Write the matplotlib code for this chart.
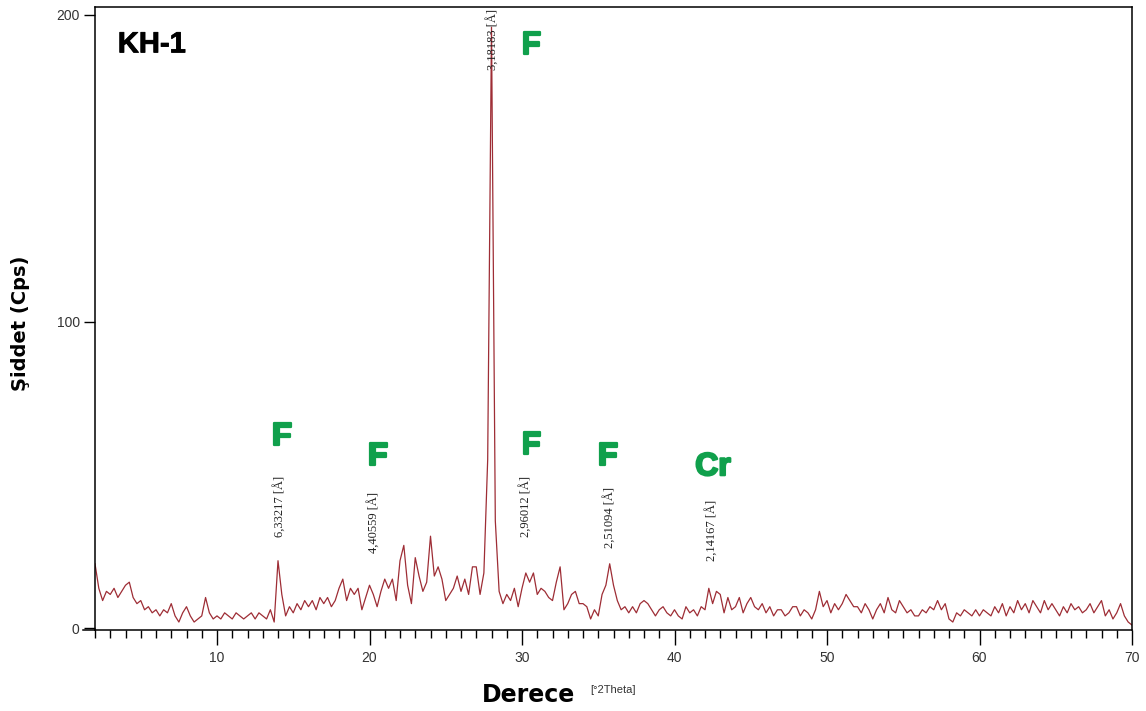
import matplotlib
matplotlib.use("Agg")
import matplotlib.pyplot as plt
import matplotlib.patheffects as pe
import numpy as np

# XRD scan KH-1: counts, 0.25 deg steps from 2 to 70 deg 2theta
start_2theta = 2.0
step_2theta = 0.25
counts = [
    21, 13, 9, 12,     # 2
    11, 13, 10, 12,    # 3
    14, 15, 10, 8,     # 4
    9, 6, 7, 5,        # 5
    6, 4, 6, 5,        # 6
    8, 4, 2, 5,        # 7
    7, 4, 2, 3,        # 8
    4, 10, 5, 3,       # 9
    4, 3, 5, 4,        # 10
    3, 5, 4, 3,        # 11
    4, 5, 3, 5,        # 12
    4, 3, 6, 2,        # 13
    22, 11, 4, 7,      # 14
    5, 8, 6, 9,        # 15
    7, 9, 6, 10,       # 16
    8, 10, 7, 9,       # 17
    13, 16, 9, 13,     # 18
    11, 13, 6, 10,     # 19
    14, 11, 7, 12,     # 20
    16, 13, 16, 9,     # 21
    22, 27, 14, 8,     # 22
    23, 17, 12, 15,    # 23
    30, 17, 20, 16,    # 24
    9, 11, 13, 17,     # 25
    12, 16, 11, 20,    # 26
    20, 11, 18, 55,    # 27
    196, 35, 12, 8,    # 28
    11, 9, 13, 7,      # 29
    13, 18, 15, 18,    # 30
    11, 13, 12, 10,    # 31
    9, 15, 20, 6,      # 32
    8, 11, 12, 8,      # 33
    8, 7, 3, 6,        # 34
    4, 11, 14, 21,     # 35
    14, 9, 6, 7,       # 36
    5, 7, 5, 8,        # 37
    9, 8, 6, 4,        # 38
    6, 7, 5, 4,        # 39
    6, 4, 3, 7,        # 40
    5, 6, 4, 7,        # 41
    6, 13, 8, 12,      # 42
    11, 5, 10, 6,      # 43
    7, 10, 5, 8,       # 44
    10, 7, 6, 8,       # 45
    5, 7, 4, 6,        # 46
    6, 4, 5, 7,        # 47
    7, 4, 6, 5,        # 48
    3, 6, 12, 7,       # 49
    9, 5, 8, 6,        # 50
    8, 11, 9, 7,       # 51
    7, 5, 8, 6,        # 52
    3, 6, 8, 5,        # 53
    10, 6, 5, 9,       # 54
    7, 5, 6, 4,        # 55
    4, 6, 5, 7,        # 56
    6, 9, 6, 8,        # 57
    3, 2, 5, 4,        # 58
    6, 5, 4, 6,        # 59
    4, 6, 5, 4,        # 60
    7, 5, 8, 4,        # 61
    7, 5, 9, 6,        # 62
    8, 5, 9, 7,        # 63
    5, 9, 6, 8,        # 64
    6, 4, 7, 5,        # 65
    8, 6, 7, 5,        # 66
    6, 8, 5, 7,        # 67
    9, 4, 6, 3,        # 68
    5, 8, 4, 2,        # 69
    1,                 # 70
]
two_theta = start_2theta + step_2theta * np.arange(len(counts))

# d-spacing labels (position in 2theta, height of label centre)
d_labels = ["6,33217 [Å]", "4,40559 [Å]", "3,18183 [Å]", "2,96012 [Å]", "2,51094 [Å]", "2,14167 [Å]"]
d_x = [14.13, 20.3, 28.1, 30.26, 35.77, 42.5]
d_y = [39.8, 34.6, 192, 39.8, 36.2, 32]

# phase labels
phase_labels = ["F", "F", "F", "F", "F", "Cr"]
phase_x = [14.26, 20.56, 30.6, 30.6, 35.64, 42.52]
phase_y = [62.3, 55.8, 190, 59.4, 55.8, 52.5]

fig = plt.figure(figsize=(11.46, 7.11), dpi=100)
ax = fig.add_axes([95 / 1146, 1 - 630 / 711, 1037 / 1146, 623 / 711])

ax.plot(two_theta, counts, color="#9e2d35", lw=0.9)

ax.set_xlim(2, 70)
ax.set_ylim(-0.6, 202.6)
ax.set_xticks([10, 20, 30, 40, 50, 60, 70])
ax.set_xticks(np.arange(2, 71, 1), minor=True)
ax.set_yticks([0, 100, 200])
ax.tick_params(axis="x", which="major", length=11, width=1, direction="out",
               labelsize=10, labelcolor="#333333", pad=4)
ax.tick_params(axis="x", which="minor", length=5.5, width=1, direction="out")
ax.tick_params(axis="y", which="major", length=8, width=1, direction="out",
               labelsize=10, labelcolor="#333333", pad=3)
for lab in ax.get_xticklabels() + ax.get_yticklabels():
    lab.set_family("Liberation Sans")
for s in ax.spines.values():
    s.set_linewidth(1.1)

# bottom axis line runs a bit past the left spine
ax.plot([-0.0116, 0], [0, 0], transform=ax.transAxes, color="black", lw=1.1, clip_on=False)

for txt, x, y in zip(d_labels, d_x, d_y):
    ax.text(x, y, txt, rotation=90, ha="center", va="center", fontsize=9,
            family="Liberation Serif", color="#222222")

green = "#10a04c"
for txt, x, y in zip(phase_labels, phase_x, phase_y):
    ax.text(x, y, txt, ha="center", va="center", fontsize=23, fontweight="bold",
            family="Liberation Sans", color=green,
            path_effects=[pe.withStroke(linewidth=1.6, foreground=green)])

ax.text(0.022, 0.94, "KH-1", transform=ax.transAxes, ha="left", va="center",
        fontsize=21, fontweight="bold", family="Liberation Sans", color="black",
        path_effects=[pe.withStroke(linewidth=0.6, foreground="black")])

fig.text(528 / 1146, 1 - 695 / 711, "Derece", ha="center", va="center",
         fontsize=17, fontweight="bold", family="DejaVu Sans")
fig.text(590 / 1146, 1 - 690 / 711, "[°2Theta]", ha="left", va="center",
         fontsize=8, family="Liberation Sans", color="#333333")
fig.text(21 / 1146, 1 - 323 / 711, "Şiddet (Cps)", ha="center", va="center",
         rotation=90, fontsize=14, fontweight="bold", family="DejaVu Sans")

fig.savefig("out.png", dpi=100, facecolor="white")
